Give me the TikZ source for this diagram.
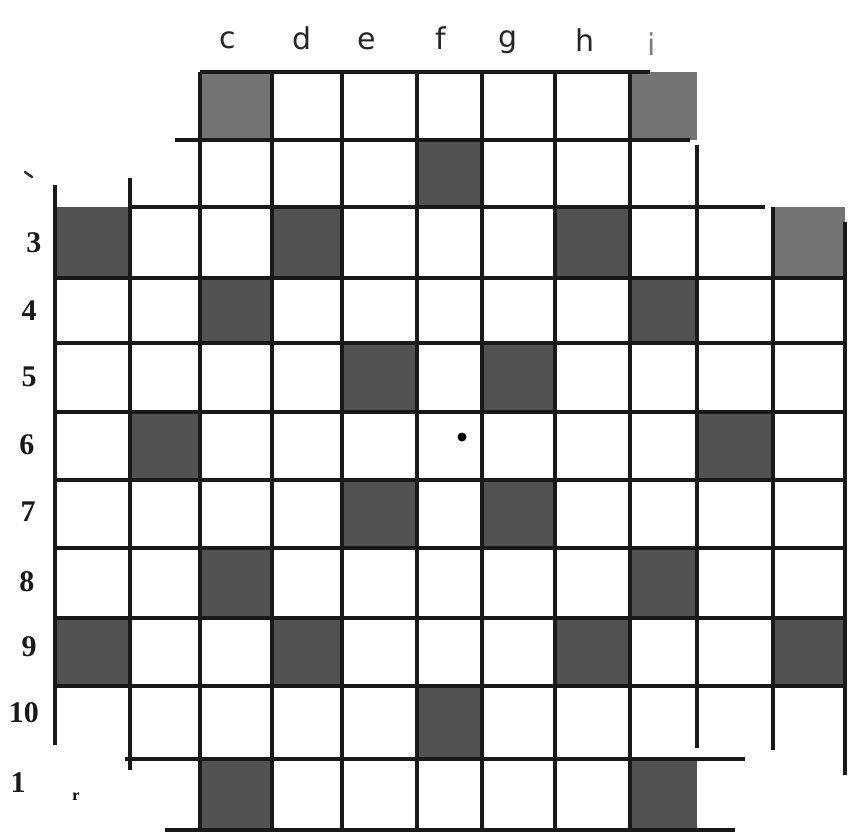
\documentclass[tikz,border=0pt]{standalone}
\usepackage{fontspec}
\setmainfont{DejaVu Sans}
\newfontfamily\labfont{Liberation Serif}
\begin{document}
\begin{tikzpicture}[x=1pt,y=-1pt,
  gridline/.style={line width=3.2pt,black!90},
  darkcell/.style={fill=black!68},
  lightcell/.style={fill=black!55},
  collab/.style={font=\fontsize{30}{30}\selectfont,text=black!85},
  rowlab/.style={font=\labfont\fontsize{30}{30}\selectfont\bfseries,text=black!90}]
\useasboundingbox (0,0) rectangle (863,835);
\def\xs{{55,130,200,272,342,417,482,555,630,697,773,845}}
\def\ys{{72,140,207,278,343,412,480,548,618,686,759,830}}
% shaded cells: col,row (1-based)
\foreach \c/\r/\s in {3/1/lightcell,9/1/lightcell,6/2/darkcell,
  1/3/darkcell,4/3/darkcell,8/3/darkcell,11/3/lightcell,
  3/4/darkcell,9/4/darkcell,5/5/darkcell,7/5/darkcell,
  2/6/darkcell,10/6/darkcell,5/7/darkcell,7/7/darkcell,
  3/8/darkcell,9/8/darkcell,1/9/darkcell,4/9/darkcell,8/9/darkcell,11/9/darkcell,
  6/10/darkcell,3/11/darkcell,9/11/darkcell}{
  \pgfmathsetmacro\xa{\xs[\c-1]}\pgfmathsetmacro\xb{\xs[\c]}
  \pgfmathsetmacro\ya{\ys[\r-1]}\pgfmathsetmacro\yb{\ys[\r]}
  \path[\s] (\xa,\ya) rectangle (\xb,\yb);
}
% horizontal lines
\draw[gridline] (200,72) -- (650,72);
\draw[gridline] (175,140) -- (690,140);
\draw[gridline] (130,207) -- (765,207);
\foreach \y in {278,343,412,480,548,618,686}{\draw[gridline] (55,\y) -- (845,\y);}
\draw[gridline] (125,759) -- (745,759);
\draw[gridline] (165,830) -- (735,830);
% vertical lines
\draw[gridline] (55,185) -- (55,745);
\draw[gridline] (130,178) -- (130,770);
\foreach \x in {200,272,342,417,482,555,630}{\draw[gridline] (\x,72) -- (\x,830);}
\draw[gridline] (697,145) -- (697,748);
\draw[gridline] (773,207) -- (773,750);
\draw[gridline] (845,222) -- (845,775);
% dot
\fill (462,437) circle (4.5pt);
% column labels
\node[collab] (lc) at (228,40) {c};
\node[collab] (ld) at (302,38) {d};
\node[collab] (le) at (367,41) {e};
\node[collab] (lf) at (441,38) {f};
\node[collab] (lg) at (508,42) {g};
\node[collab] (lh) at (585,40) {h};
\node[collab,text=black!50] (li) at (652,44) {i};
% row labels
\draw[line width=2.5pt,black!80,line cap=round] (25,172) -- (32,177);
\node[rowlab] (r3) at (34,243) {3};
\node[rowlab] (r4) at (29,311) {4};
\node[rowlab] (r5) at (29,377) {5};
\node[rowlab] (r6) at (27,445) {6};
\node[rowlab] (r7) at (28,512) {7};
\node[rowlab] (r8) at (27,582) {8};
\node[rowlab] (r9) at (29,647) {9};
\node[rowlab] (r10) at (24,713) {10};
\node[rowlab] (r11) at (18,783) {1};
\node[font=\labfont\fontsize{16}{16}\selectfont\bfseries] (rr) at (76,797) {r};
\end{tikzpicture}
\end{document}
